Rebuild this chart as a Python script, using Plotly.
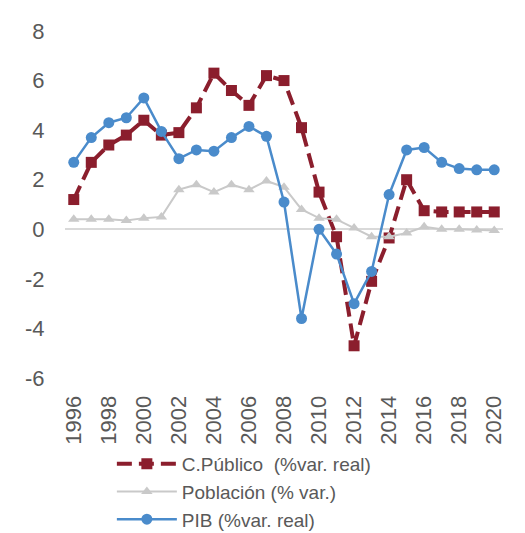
import plotly.graph_objects as go

years = list(range(1996, 2021))

c_publico = [1.2, 2.7, 3.4, 3.8, 4.4, 3.8, 3.9, 4.9, 6.3, 5.6, 5.0, 6.2, 6.0,
             4.1, 1.5, -0.3, -4.7, -2.1, -0.35, 2.0, 0.75, 0.7, 0.7, 0.7, 0.7]
poblacion = [0.4, 0.4, 0.4, 0.35, 0.45, 0.5, 1.6, 1.8, 1.5, 1.8, 1.6, 1.95, 1.7,
             0.8, 0.45, 0.4, 0.05, -0.3, -0.3, -0.15, 0.1, 0.0, 0.0, -0.03, -0.05]
pib = [2.7, 3.7, 4.3, 4.5, 5.3, 3.95, 2.85, 3.2, 3.15, 3.7, 4.15, 3.75, 1.1,
       -3.6, 0.0, -1.0, -3.0, -1.7, 1.4, 3.2, 3.3, 2.7, 2.45, 2.4, 2.4]

tick_years = list(range(1996, 2021, 2))
y_ticks = [-6, -4, -2, 0, 2, 4, 6, 8]

fig = go.Figure()

fig.add_trace(go.Scatter(
    x=years, y=c_publico, name='C.Público  (%var. real)',
    mode='lines+markers',
    line=dict(color='#8B1E2D', width=4, dash='15px,7px'),
    marker=dict(symbol='square', size=11, color='#8B1E2D')
))

fig.add_trace(go.Scatter(
    x=years, y=poblacion, name='Población (% var.)',
    mode='lines+markers',
    line=dict(color='#C9C9C9', width=2),
    marker=dict(symbol='triangle-up', size=10, color='#C9C9C9')
))

fig.add_trace(go.Scatter(
    x=years, y=pib, name='PIB (%var. real)',
    mode='lines+markers',
    line=dict(color='#4A8BCB', width=2.5),
    marker=dict(symbol='circle', size=11, color='#4A8BCB')
))

# the page body adds an 8px margin, so the figure is drawn 8px smaller
fig.update_layout(
    width=517, height=525,
    margin=dict(l=57, r=22, t=23, b=155, autoexpand=False),
    plot_bgcolor='white', paper_bgcolor='white',
    font=dict(family='Liberation Sans, Arial', size=22, color='#595959'),
    showlegend=True,
    legend=dict(x=0.107, y=-0.193, xanchor='left', yanchor='top',
                orientation='v', tracegroupgap=0,
                font=dict(size=19, color='#595959'),
                itemwidth=60)
)

fig.update_xaxes(
    range=[1995.5, 2020.5],
    tickvals=tick_years, ticktext=[str(y) for y in tick_years],
    tickangle=-90, showgrid=False, showline=False, zeroline=False,
    ticks='outside', ticklen=8, tickcolor='rgba(0,0,0,0)', automargin=False
)

fig.update_yaxes(
    range=[-6, 8], tickvals=y_ticks, ticktext=[str(v) for v in y_ticks],
    showgrid=False, showline=False,
    zeroline=True, zerolinecolor='#D9D9D9', zerolinewidth=1.5,
    ticks='outside', ticklen=15, tickcolor='rgba(0,0,0,0)', automargin=False
)

fig.write_html("out.html")
